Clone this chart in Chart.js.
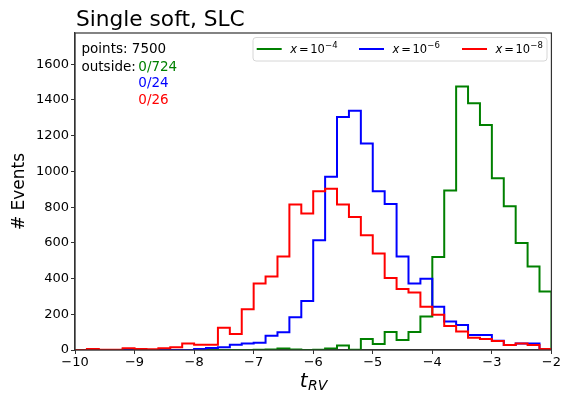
<!DOCTYPE html>
<html>
<head>
<meta charset="utf-8">
<script src="https://cdn.jsdelivr.net/npm/chart.js@4/dist/chart.umd.min.js"></script>
<style>
  html, body { margin: 0; padding: 0; background: #ffffff; }
  #wrap { width: 562px; height: 395px; position: relative; }
</style>
</head>
<body>
<div id="wrap"><canvas id="c" width="562" height="395"></canvas></div>
<script>
// Histogram bin edges of t_RV (40 bins of width 0.2 from -10 to -2)
const binEdges = [-10.0, -9.8, -9.6, -9.4, -9.2, -9.0, -8.8, -8.6, -8.4, -8.2,
                  -8.0, -7.8, -7.6, -7.4, -7.2, -7.0, -6.8, -6.6, -6.4, -6.2,
                  -6.0, -5.8, -5.6, -5.4, -5.2, -5.0, -4.8, -4.6, -4.4, -4.2,
                  -4.0, -3.8, -3.6, -3.4, -3.2, -3.0, -2.8, -2.6, -2.4, -2.2, -2.0];

// Events per bin for x = 1e-4
const countsX4 = [0, 0, 0, 0, 0, 0, 0, 0, 0, 0,
                  0, 0, 0, 0, 0, 2, 3, 8, 3, 0,
                  2, 8, 25, 2, 62, 34, 101, 56, 101, 187,
                  521, 893, 1476, 1382, 1260, 961, 805, 599, 468, 328];

// Events per bin for x = 1e-6
const countsX6 = [0, 0, 0, 0, 3, 0, 0, 0, 0, 0,
                  5, 11, 15, 30, 36, 41, 80, 99, 184, 275,
                  614, 970, 1305, 1339, 1156, 889, 818, 524, 373, 399,
                  242, 160, 140, 84, 84, 52, 28, 36, 36, 3];

// Events per bin for x = 1e-8
const countsX8 = [0, 6, 1, 1, 10, 5, 4, 10, 15, 36,
                  30, 30, 125, 90, 228, 372, 412, 524, 815, 764,
                  889, 903, 815, 745, 642, 540, 403, 341, 322, 242,
                  197, 135, 103, 69, 62, 51, 28, 37, 28, 6];

const xTickValues = [-10, -9, -8, -7, -6, -5, -4, -3, -2];
const yTickValues = [0, 200, 400, 600, 800, 1000, 1200, 1400, 1600];

const seriesLabels = ['x = 10^-4', 'x = 10^-6', 'x = 10^-8'];
const seriesExponents = ['\u22124', '\u22126', '\u22128'];
const seriesColors = ['#008000', '#0000ff', '#ff0000'];
const outsideCounts = ['0/724', '0/24', '0/26'];
const totalPoints = 7500;

const FONT = '"DejaVu Sans", sans-serif';

// Turn bin counts into an unclosed step outline (like a step histogram)
function stepPoints(counts) {
  const pts = [{ x: binEdges[0], y: 0 }];
  counts.forEach((c, i) => pts.push({ x: binEdges[i], y: c }));
  const last = binEdges[binEdges.length - 1];
  pts.push({ x: last, y: counts[counts.length - 1] });
  pts.push({ x: last, y: 0 });
  return pts;
}

const minusFmt = v => (v < 0 ? '\u2212' + Math.abs(v) : String(v));

const decorations = {
  id: 'decorations',
  afterDraw(chart) {
    const ctx = chart.ctx;
    const a = chart.chartArea;
    ctx.save();

    // Frame around the plotting area
    ctx.strokeStyle = '#333333';
    ctx.lineWidth = 1.2;
    ctx.strokeRect(a.left, a.top, a.right - a.left, a.bottom - a.top);

    // Title
    ctx.fillStyle = '#000000';
    ctx.textBaseline = 'alphabetic';
    ctx.textAlign = 'left';
    ctx.font = '21.7px ' + FONT;
    ctx.fillText('Single soft, SLC', a.left + 1, 26);

    // Axis titles
    ctx.save();
    ctx.translate(24, (a.top + a.bottom) / 2);
    ctx.rotate(-Math.PI / 2);
    ctx.textAlign = 'center';
    ctx.font = '17px ' + FONT;
    ctx.fillText('# Events', 0, 0);
    ctx.restore();

    const cx = (a.left + a.right) / 2;
    ctx.font = 'italic 20px ' + FONT;
    const tW = ctx.measureText('t').width;
    ctx.font = 'italic 14px ' + FONT;
    const subW = ctx.measureText('RV').width;
    const x0 = cx - (tW + subW) / 2;
    ctx.font = 'italic 20px ' + FONT;
    ctx.fillText('t', x0, 387);
    ctx.font = 'italic 14px ' + FONT;
    ctx.fillText('RV', x0 + tW + 0.5, 390);

    // Sample summary
    ctx.font = '13.5px ' + FONT;
    ctx.fillStyle = '#000000';
    ctx.fillText('points: ' + totalPoints, 81.5, 53);
    ctx.fillText('outside:', 81.5, 70.5);
    outsideCounts.forEach((t, i) => {
      ctx.fillStyle = seriesColors[i];
      ctx.fillText(t, 138.3, 70.5 + i * 16.8);
    });

    // Legend
    const bx = 253, by = 37.5, bw = 294, bh = 23.5, r = 3;
    ctx.beginPath();
    ctx.moveTo(bx + r, by);
    ctx.arcTo(bx + bw, by, bx + bw, by + bh, r);
    ctx.arcTo(bx + bw, by + bh, bx, by + bh, r);
    ctx.arcTo(bx, by + bh, bx, by, r);
    ctx.arcTo(bx, by, bx + bw, by, r);
    ctx.closePath();
    ctx.fillStyle = 'rgba(255,255,255,0.8)';
    ctx.fill();
    ctx.strokeStyle = '#d6d6d6';
    ctx.lineWidth = 1;
    ctx.stroke();

    const entryX = [256.7, 359, 462];
    const ly = 49;
    seriesLabels.forEach((lab, i) => {
      const ex = entryX[i];
      ctx.strokeStyle = seriesColors[i];
      ctx.lineWidth = 2;
      ctx.beginPath();
      ctx.moveTo(ex, ly);
      ctx.lineTo(ex + 25, ly);
      ctx.stroke();
      ctx.fillStyle = '#000000';
      let tx = ex + 33.5;
      ctx.font = 'italic 11.5px ' + FONT;
      ctx.fillText('x', tx, 53.3);
      tx += ctx.measureText('x').width + 2;
      ctx.font = '11.5px ' + FONT;
      ctx.fillText('=', tx, 53.3);
      tx += ctx.measureText('=').width + 1.5;
      ctx.fillText('10', tx, 53.3);
      tx += ctx.measureText('10').width + 0.3;
      ctx.font = '8.5px ' + FONT;
      ctx.fillText(seriesExponents[i], tx, 47.5);
    });

    ctx.restore();
  }
};

const datasets = [countsX4, countsX6, countsX8].map((counts, i) => ({
  label: seriesLabels[i],
  data: stepPoints(counts),
  borderColor: seriesColors[i],
  backgroundColor: seriesColors[i],
  borderWidth: 2,
  pointRadius: 0,
  pointHoverRadius: 0,
  fill: false,
  stepped: 'before',
  tension: 0,
  order: 3 - i
}));

new Chart(document.getElementById('c'), {
  type: 'line',
  data: { datasets },
  options: {
    responsive: false,
    animation: false,
    events: [],
    layout: { padding: { top: 33, right: 9, left: 0, bottom: 0 } },
    plugins: {
      legend: { display: false },
      title: { display: false },
      tooltip: { enabled: false }
    },
    scales: {
      x: {
        type: 'linear',
        min: -10,
        max: -2,
        afterFit: s => { s.height = 45; },
        afterBuildTicks: s => { s.ticks = xTickValues.map(v => ({ value: v })); },
        ticks: {
          callback: minusFmt,
          font: { family: FONT, size: 13 },
          color: '#000000',
          maxRotation: 0,
          autoSkip: false,
          padding: 1
        },
        grid: { drawOnChartArea: false, drawTicks: true, tickLength: 4, color: '#333333' },
        border: { display: true, color: '#333333', width: 1.2 }
      },
      y: {
        type: 'linear',
        min: 0,
        max: 1775,
        afterFit: s => { s.width = 75; },
        afterBuildTicks: s => { s.ticks = yTickValues.map(v => ({ value: v })); },
        ticks: {
          callback: v => String(v),
          font: { family: FONT, size: 13 },
          color: '#000000',
          autoSkip: false,
          padding: 2
        },
        grid: { drawOnChartArea: false, drawTicks: true, tickLength: 4, color: '#333333' },
        border: { display: true, color: '#333333', width: 1.2 }
      }
    }
  },
  plugins: [decorations]
});
</script>
</body>
</html>
